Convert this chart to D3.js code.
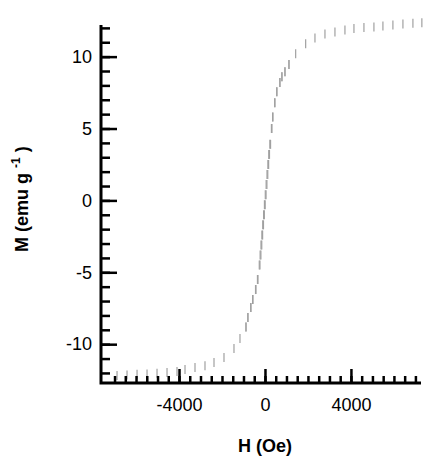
<!DOCTYPE html>
<html>
<head>
<meta charset="utf-8">
<script src="https://cdn.jsdelivr.net/npm/d3@7"></script>
<style>
  body { margin: 0; background: #fff; }
  svg { display: block; font-family: "Liberation Sans", Arial, sans-serif; }
  .axis path, .axis line { stroke: #000; }
  .axis text { fill: #000; font-size: 18px; }
</style>
</head>
<body>
<div id="vis-container"></div>
<script>
// saturated tails (both branches sit on top of each other here)
var hTailNeg = [-6884, -6419, -5953, -5488, -5023, -4558, -4093, -3721, -3256, -2791, -2372, -1907, -1442, -1163];
var mTailNeg = [-12.17, -12.14, -12.1, -12.07, -12.03, -11.97, -11.9, -11.76, -11.62, -11.5, -11.27, -10.92, -10.3, -9.6];
var hTailPos = [1428, 1893, 2326, 2791, 3256, 3721, 4140, 4605, 5070, 5488, 5953, 6419, 6884, 7300];
var mTailPos = [10.2, 10.9, 11.3, 11.58, 11.72, 11.85, 11.96, 12.03, 12.06, 12.13, 12.2, 12.27, 12.33, 12.36];

// steep middle part, ascending and descending branch
var mCore = [-8.8, -8.15, -7.45, -6.9, -6.2, -5.5, -4.5, -3.8, -3.1, -2.4, -1.7, -1.0, -0.3, 0.4, 1.1, 1.8, 2.5, 3.2, 3.9, 5.0, 5.8, 6.8, 7.55, 8.2, 8.6, 8.95, 9.46];
var hCoreUp = [-884, -790, -651, -558, -419, -326, -233, -190, -150, -110, -70, -30, 10, 50, 90, 130, 170, 210, 260, 326, 372, 465, 558, 698, 791, 930, 1116];
var hCoreDown = [-884, -800, -665, -575, -440, -350, -265, -225, -185, -145, -105, -65, -25, 15, 55, 95, 135, 175, 225, 300, 355, 450, 545, 690, 785, 930, 1116];

var yMajor = [-10, -5, 0, 5, 10];
var yMinor = d3.range(-12, 13, 1);
var xMajor = [-4000, 0, 4000];
var xMinor = d3.range(-7000, 7001, 500);

var width = 427, height = 463;

var svg = d3.select("#vis-container").append("svg")
    .attr("width", width).attr("height", height);

var xScale = d3.scaleLinear().domain([-7630, 7260]).range([101, 421]);
var yScale = d3.scaleLinear().domain([-12.7, 12.2]).range([383, 25]);

// build point list from the arrays
var points = [];
function addBranch(hs, ms) {
    hs.forEach((h, i) => points.push({ h: h, m: ms[i] }));
}
addBranch(hTailNeg, mTailNeg);
addBranch(hCoreUp, mCore);
addBranch(hCoreDown, mCore);
addBranch(hTailPos, mTailPos);

// vertical dash markers
svg.append("g").selectAll("line")
    .data(points).enter()
    .append("line")
    .attr("x1", d => xScale(d.h))
    .attr("x2", d => xScale(d.h))
    .attr("y1", d => yScale(d.m) - 4.5)
    .attr("y2", d => yScale(d.m) + 4.5)
    .attr("stroke", "#a0a0a0")
    .attr("stroke-width", 1.2);

var plain = d => String(d); // "-4000", not "−4,000"

function styleAxis(g) {
    g.attr("font-family", null).attr("font-size", null);
    g.selectAll("line").attr("stroke-width", 2.5);
    g.select(".domain").remove();
}

// y axis
var yAxisG = svg.append("g").attr("class", "axis").attr("transform", "translate(101,0)");
yAxisG.append("g")
    .call(d3.axisLeft(yScale).tickValues(yMinor).tickSize(-9).tickSizeOuter(0).tickFormat(""))
    .call(styleAxis);
yAxisG.append("g")
    .call(d3.axisLeft(yScale).tickValues(yMajor).tickSize(-16).tickSizeOuter(0).tickPadding(9).tickFormat(plain))
    .call(styleAxis);

// x axis
var xAxisG = svg.append("g").attr("class", "axis").attr("transform", "translate(0,383)");
xAxisG.append("g")
    .call(d3.axisBottom(xScale).tickValues(xMinor).tickSize(-7).tickSizeOuter(0).tickFormat(""))
    .call(styleAxis);
xAxisG.append("g")
    .call(d3.axisBottom(xScale).tickValues(xMajor).tickSize(-14).tickSizeOuter(0).tickPadding(15).tickFormat(plain))
    .call(styleAxis);

// frame lines (left + bottom)
svg.append("path")
    .attr("d", "M" + xScale.range()[0] + "," + yScale.range()[1] + "V" + yScale.range()[0] + "H" + xScale.range()[1])
    .attr("fill", "none")
    .attr("stroke", "#000")
    .attr("stroke-width", 3);

// axis titles
svg.append("text")
    .attr("x", 265).attr("y", 452)
    .attr("text-anchor", "middle")
    .attr("font-size", 18).attr("font-weight", "bold")
    .text("H (Oe)");

var yTitle = svg.append("text")
    .attr("transform", "translate(28,252) rotate(-90)")
    .attr("text-anchor", "start")
    .attr("font-size", 18).attr("font-weight", "bold");
yTitle.append("tspan").text("M (emu g ");
yTitle.append("tspan").attr("font-size", 12).attr("dy", -8).text("-1");
yTitle.append("tspan").attr("dy", 8).text(" )");
</script>
</body>
</html>
